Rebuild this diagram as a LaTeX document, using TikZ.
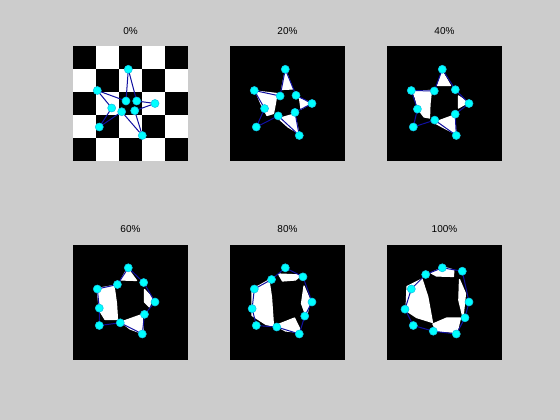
\documentclass[tikz,border=0pt]{standalone}
\usepackage{fontspec}
\setmainfont{Liberation Sans}
\usepackage{tikz}
\usetikzlibrary{calc}
\definecolor{FigGray}{HTML}{CCCCCC}
\definecolor{MarkCyan}{HTML}{00FFFF}
\definecolor{MarkEdge}{HTML}{10C8E8}
\definecolor{LineBlue}{HTML}{1010A0}
\tikzset{
  panel/.style={fill=black},
  wpiece/.style={fill=white,draw=white,line width=1.2pt,line join=round},
  ctrlpt/.style={circle,fill=MarkCyan,draw=MarkEdge,line width=0.6pt,inner sep=0pt,minimum size=8pt},
  starline/.style={draw=LineBlue,line width=1pt,line join=round},
  ttl/.style={font=\fontsize{10}{12}\selectfont,inner sep=0pt}
}

\begin{document}
\begin{tikzpicture}[x=1pt,y=-1pt]
\fill[FigGray] (0,0) rectangle (560,420);
\useasboundingbox (0,0) rectangle (560,420);
% panels, titles and control points
\foreach \n/\px/\py/\t/\pc in {1/73/46/0/0,2/230/46/0.2/20,3/387/46/0.4/40,4/73/244.5/0.6/60,5/230/244.5/0.8/80,6/387/244.5/1/100}{
\begin{scope}[shift={(\px,\py)}]
\fill[panel] (0,0) rectangle (115,115);
\node[ttl] (ttl\n) at (57.5,-15) {\pc\%};
\coordinate (a\n-top) at (55.3,23.3);
\coordinate (a\n-left) at (24.3,44.5);
\coordinate (a\n-right) at (82,57.5);
\coordinate (a\n-bl) at (26.3,81);
\coordinate (a\n-br) at (69.3,89.5);
\coordinate (a\n-tl) at ($(53,55)!\t!(38.7,30)$);
\coordinate (a\n-tr) at ($(63.7,55)!\t!(75.3,26.7)$);
\coordinate (a\n-l) at ($(38.7,62)!\t!(18,64.7)$);
\coordinate (a\n-b) at ($(48.7,65.7)!\t!(46.3,86.7)$);
\coordinate (a\n-r) at ($(61.7,64.7)!\t!(78,73.3)$);
\end{scope}
}
% checkerboard at 0%
\begin{scope}[shift={(73,46)}]
\foreach \i in {0,...,4}
  \foreach \j in {0,...,4}{
    \pgfmathtruncatemacro{\odd}{mod(\i+\j,2)}
    \ifnum\odd=1 \fill[white] (23*\i,23*\j) rectangle ++(23,23); \fi
  }
\end{scope}
% warped pieces
\begin{scope}[shift={(230,46)}]
\filldraw[wpiece] (55.5,24)--(51.5,43.5)--(62.5,43)--cycle;
\filldraw[wpiece] (25.5,45)--(47,47.5)--(45.5,57)--(43.5,67.5)--(37,69.5)--(31,58)--cycle;
\filldraw[wpiece] (69.5,52.5)--(81.5,57)--(71,63)--cycle;
\filldraw[wpiece] (48.5,72.5)--(64.5,68)--(69,87.5)--(58,81)--cycle;
\end{scope}
\begin{scope}[shift={(387,46)}]
\filldraw[wpiece] (55.3,25.5)--(50.5,39.5)--(63.5,39.5)--cycle;
\filldraw[wpiece] (25.5,45)--(44.5,44.5)--(43,58)--(42.5,72)--(37,71)--(31,63)--(28.5,52.5)--cycle;
\filldraw[wpiece] (71.5,50)--(81,56.5)--(71.5,62)--cycle;
\filldraw[wpiece] (47,76.5)--(67.5,69)--(69,88)--(58,82.5)--cycle;
\end{scope}
\begin{scope}[shift={(73,244.5)}]
\filldraw[wpiece] (54.5,23.5)--(48,35.5)--(63.5,36)--cycle;
\filldraw[wpiece] (24,44)--(41,41)--(43.5,59)--(44.5,75)--(32,75)--(26.5,66)--cycle;
\filldraw[wpiece] (71.5,45)--(79,53)--(76.5,62.5)--(71.5,57.5)--cycle;
\filldraw[wpiece] (48,77.5)--(69,70)--(70.5,89.5)--(57,84.5)--cycle;
\end{scope}
\begin{scope}[shift={(230,244.5)}]
\filldraw[wpiece] (48.5,29.5)--(71.5,30.5)--(65.5,35.5)--(52.5,36.5)--cycle;
\filldraw[wpiece] (22,45)--(39,35.5)--(41.5,52.5)--(43.5,81.5)--(36,80)--(22,71)--cycle;
\filldraw[wpiece] (74,41.5)--(80,55.5)--(76.5,73)--(71.5,59)--cycle;
\filldraw[wpiece] (45.5,81)--(64.5,73.5)--(71.5,88)--(55.5,86.5)--cycle;
\end{scope}
\begin{scope}[shift={(387,244.5)}]
\filldraw[wpiece] (44,28.5)--(56.3,22.5)--(66.8,25.5)--(66.5,32)--(49.5,31.5)--cycle;
\filldraw[wpiece] (20,42)--(35,34.5)--(40.8,52.3)--(45.5,78)--(29.5,73)--(19,66)--cycle;
\filldraw[wpiece] (72.5,35)--(78.5,49)--(76,73)--(71.8,55.7)--cycle;
\filldraw[wpiece] (45.8,79.5)--(59.7,73.5)--(73.5,73.5)--(70,88)--(49.5,86.5)--cycle;
\end{scope}
% star outlines and markers
\foreach \n in {1,...,6}{
\draw[starline] (a\n-top)--(a\n-tr)--(a\n-right)--(a\n-r)--(a\n-br)--(a\n-b)--(a\n-bl)--(a\n-l)--(a\n-left)--(a\n-tl)--cycle;
\foreach \k in {top,tr,right,r,br,b,bl,l,left,tl}
  \node[ctrlpt] (m\n-\k) at (a\n-\k) {};
}
\end{tikzpicture}
\end{document}
